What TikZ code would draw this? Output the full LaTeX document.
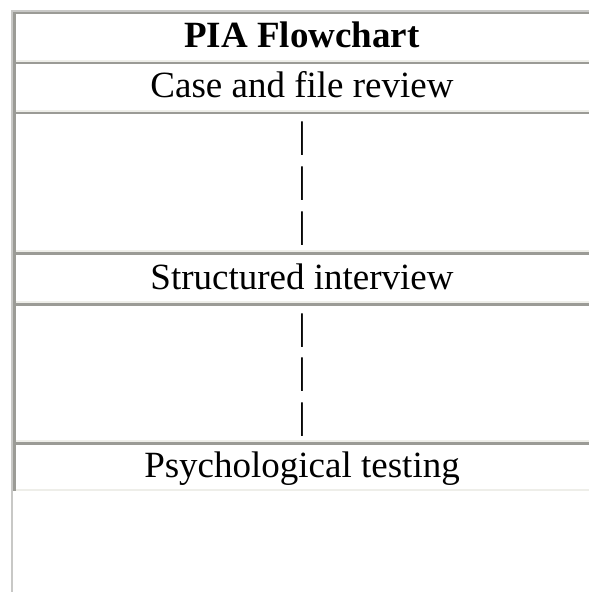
\documentclass[tikz,border=0pt]{standalone}
\usepackage{fontspec}
\setmainfont{Liberation Serif}
\definecolor{bdark}{RGB}{155,155,150}
\definecolor{blight}{RGB}{238,238,233}
\definecolor{bouter}{RGB}{200,200,198}
\tikzset{
  celltext/.style={anchor=base, inner sep=0pt, font=\fontsize{37bp}{44bp}\selectfont, text=black},
  titletext/.style={celltext, font=\fontsize{37bp}{44bp}\selectfont\bfseries},
  pipetext/.style={celltext},
}
\newcommand{\tabcell}[2]{%
  \fill[bdark] (13,#1) rectangle (589,#1+2.5);
  \fill[bdark] (13,#1) rectangle (15.5,#2);
  \fill[blight] (15.5,#2-2) rectangle (589,#2);
}
\begin{document}
\begin{tikzpicture}[x=1bp,y=-1bp]
\useasboundingbox (0,0) rectangle (589,592);
\fill[white] (0,0) rectangle (589,592);
% outer table border
\fill[bouter] (11,10) rectangle (13,592);
\fill[bouter] (11,10) rectangle (589,12);
% cells
\tabcell{12}{62}
\tabcell{62}{112}
\tabcell{112}{252}
\tabcell{252}{303}
\tabcell{303}{442}
\tabcell{442}{491}
% texts
\node[titletext] (title) at (302,48) {PIA Flowchart};
\node[celltext] (case) at (302,98) {Case and file review};
\node[pipetext] (p1) at (302,148) {|};
\node[pipetext] (p2) at (302,192.5) {|};
\node[pipetext] (p3) at (302,237) {|};
\node[celltext] (interview) at (302,289) {Structured interview};
\node[pipetext] (p4) at (302,339) {|};
\node[pipetext] (p5) at (302,383.5) {|};
\node[pipetext] (p6) at (302,428) {|};
\node[celltext] (testing) at (302,477) {Psychological testing};
\end{tikzpicture}
\end{document}
